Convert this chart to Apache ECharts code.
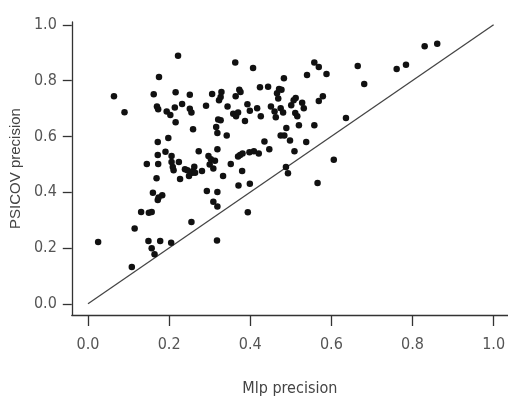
<!DOCTYPE html>
<html>
<head>
<meta charset="utf-8">
<script src="https://cdn.jsdelivr.net/npm/echarts@6/dist/echarts.min.js"></script>
<style>html,body{margin:0;padding:0;background:#fff}#c{width:508px;height:402px}</style>
</head>
<body>
<div id="c"></div>
<script>
// Mlp precision (x) values
var mlpPrecision = [0.025,0.064,0.090,0.108,0.115,0.131,0.145,0.149,0.150,0.157,0.157,0.160,0.162,0.164,0.169,0.172,0.172,0.170,0.175,0.173,0.172,0.173,0.178,0.183,0.174,0.191,0.194,0.198,0.203,0.205,0.206,0.209,0.211,0.214,0.216,0.216,0.222,0.224,0.227,0.232,0.239,0.245,0.249,0.251,0.251,0.255,0.255,0.259,0.259,0.262,0.273,0.281,0.291,0.293,0.297,0.300,0.303,0.306,0.309,0.309,0.313,0.316,0.318,0.319,0.319,0.319,0.319,0.321,0.323,0.327,0.327,0.329,0.333,0.342,0.344,0.352,0.358,0.363,0.364,0.365,0.370,0.370,0.371,0.373,0.375,0.376,0.380,0.381,0.387,0.393,0.394,0.398,0.399,0.399,0.407,0.409,0.417,0.421,0.424,0.426,0.435,0.444,0.447,0.451,0.460,0.463,0.466,0.469,0.471,0.475,0.475,0.477,0.481,0.483,0.484,0.488,0.489,0.493,0.498,0.501,0.507,0.509,0.511,0.512,0.516,0.520,0.528,0.532,0.538,0.540,0.558,0.558,0.566,0.569,0.569,0.579,0.588,0.606,0.636,0.665,0.681,0.761,0.784,0.830,0.861,0.206,0.257,0.264];
// PSICOV precision (y) values
var psicovPrecision = [0.222,0.744,0.687,0.132,0.270,0.329,0.501,0.225,0.326,0.329,0.199,0.398,0.751,0.178,0.450,0.533,0.580,0.707,0.813,0.697,0.372,0.501,0.225,0.389,0.381,0.545,0.689,0.594,0.677,0.219,0.530,0.490,0.479,0.704,0.758,0.651,0.889,0.508,0.447,0.716,0.482,0.479,0.458,0.749,0.699,0.686,0.293,0.476,0.626,0.491,0.547,0.476,0.710,0.404,0.530,0.499,0.518,0.752,0.366,0.485,0.513,0.634,0.227,0.554,0.401,0.349,0.612,0.661,0.730,0.658,0.741,0.759,0.458,0.603,0.707,0.501,0.681,0.865,0.744,0.672,0.686,0.528,0.424,0.767,0.533,0.759,0.476,0.539,0.655,0.715,0.328,0.543,0.430,0.692,0.845,0.547,0.701,0.539,0.776,0.672,0.582,0.778,0.554,0.707,0.689,0.669,0.755,0.736,0.770,0.603,0.701,0.767,0.686,0.808,0.603,0.490,0.630,0.468,0.585,0.712,0.730,0.547,0.684,0.738,0.672,0.640,0.721,0.701,0.580,0.820,0.640,0.865,0.433,0.849,0.727,0.744,0.824,0.516,0.666,0.852,0.788,0.842,0.857,0.923,0.932,0.508,0.470,0.470];
// Reference diagonal y = x
var diagonal = [[0, 0], [1, 1]];
// Tick values
var tickValues = [0, 0.2, 0.4, 0.6, 0.8, 1.0];

var points = mlpPrecision.map(function (x, i) { return [x, psicovPrecision[i]]; });
var narrow = "'Liberation Sans Narrow', 'DejaVu Sans Condensed', 'Liberation Sans', sans-serif";

var chart = echarts.init(document.getElementById('c'), null, {renderer: 'canvas'});
chart.setOption({
  animation: false,
  backgroundColor: '#ffffff',
  grid: {left: 70.5, right: 0, top: 22, bottom: 77, containLabel: false},
  xAxis: {
    type: 'value', min: -0.04, max: 1.035,
    name: 'Mlp precision', nameLocation: 'middle', nameGap: 66,
    nameTextStyle: {fontFamily: narrow, fontSize: 16, color: '#444'},
    axisLine: {show: true, onZero: false, lineStyle: {color: '#333', width: 1.3}},
    axisTick: {show: true, length: 11, inside: false, customValues: tickValues, lineStyle: {color: '#333', width: 1.3}},
    axisLabel: {customValues: tickValues, margin: 22, fontFamily: narrow, fontSize: 16, color: '#555',
      formatter: function (v) { return v.toFixed(1); }},
    splitLine: {show: false}
  },
  yAxis: {
    type: 'value', min: -0.04, max: 1.01,
    name: 'PSICOV precision', nameLocation: 'middle', nameGap: 41, nameRotate: 90,
    nameTextStyle: {fontFamily: "'Liberation Sans', Arial, sans-serif", fontSize: 15, color: '#444'},
    axisLine: {show: true, onZero: false, lineStyle: {color: '#333', width: 1.3}},
    axisTick: {show: true, length: 9, inside: false, customValues: tickValues, lineStyle: {color: '#333', width: 1.3}},
    axisLabel: {customValues: tickValues, margin: 15, fontFamily: narrow, fontSize: 16, color: '#555',
      formatter: function (v) { return v.toFixed(1); }},
    splitLine: {show: false}
  },
  series: [
    {type: 'line', data: diagonal, symbol: 'none', lineStyle: {color: '#444', width: 1.3}, silent: true, z: 1},
    {type: 'scatter', data: points, symbol: 'circle', symbolSize: 6.5, itemStyle: {color: '#111', opacity: 1}, z: 2}
  ]
});
</script>
</body>
</html>
